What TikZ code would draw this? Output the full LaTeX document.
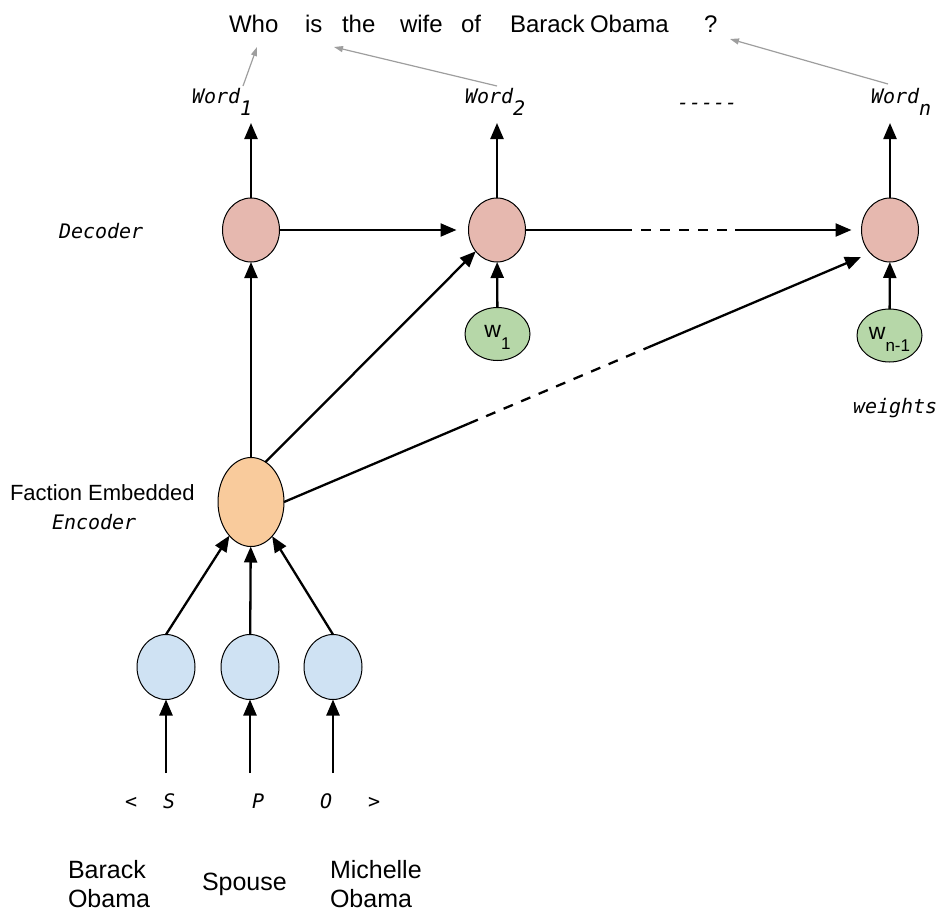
\documentclass[tikz,border=0pt]{standalone}
\usepackage{fontspec}
\setmainfont{Liberation Sans}
\newfontfamily\codefont{DejaVu Sans Mono}
\usetikzlibrary{arrows.meta,shapes.geometric,calc}

\definecolor{decfill}{HTML}{E6B8AF}
\definecolor{wfill}{HTML}{B6D7A8}
\definecolor{encfill}{HTML}{F9CB9C}
\definecolor{infill}{HTML}{CFE2F3}
\definecolor{hintgray}{HTML}{9E9E9E}

\begin{document}
\begin{tikzpicture}[x=1pt,y=-1pt,
  every node/.style={inner sep=0pt, outer sep=0pt},
  cell/.style={ellipse, draw=black, line width=1pt},
  decnode/.style={cell, fill=decfill, minimum width=57pt, minimum height=64pt},
  wnode/.style={cell, fill=wfill, minimum width=65pt, minimum height=53pt,
    font=\fontsize{23}{23}\selectfont},
  encnode/.style={cell, fill=encfill, minimum width=66pt, minimum height=89pt},
  innode/.style={cell, fill=infill, minimum width=58pt, minimum height=65pt},
  flow/.style={line width=2.3pt, -{Triangle[length=16pt,width=13pt]}},
  plain/.style={line width=2.3pt},
  dashpart/.style={line width=2.3pt, dash pattern=on 10pt off 9pt},
  hint/.style={draw=hintgray, line width=1.2pt, -{Triangle[length=9pt,width=6pt]}},
  code/.style={font=\fontsize{20}{20}\selectfont\codefont\itshape, anchor=base west},
  title/.style={font=\fontsize{24}{24}\selectfont, anchor=base west},
  side/.style={font=\fontsize{22}{22}\selectfont, anchor=base west},
  entity/.style={font=\fontsize{25}{29}\selectfont, align=left, anchor=north west},
]
\useasboundingbox (0,0) rectangle (943,913);

% question words
\node[title] (q1) at (229,32) {Who};
\node[title] (q2) at (305,32) {is};
\node[title] (q3) at (342,32) {the};
\node[title] (q4) at (400,32) {wife};
\node[title] (q5) at (461,32) {of};
\node[title] (q6) at (510,32) {Barack};
\node[title] (q7) at (590,32) {Obama};
\node[title] (q8) at (704,32) {?};

% generated words
\node[code] (o1) at (192,103) {Word\raisebox{-12pt}{1}};
\node[code] (o2) at (465,103) {Word\raisebox{-12pt}{2}};
\node[code] (odots) at (677,109) {-{}-{}-{}-{}-};
\node[code] (on) at (871,103) {Word\raisebox{-12pt}{n}};

% links from words to the question
\coordinate (h1a) at (243,86);  \coordinate (h1b) at (257,47);
\coordinate (h2a) at (497,86);  \coordinate (h2b) at (334,47);
\coordinate (h3a) at (888,84);  \coordinate (h3b) at (730,39);
\draw[hint] (h1a) -- (h1b);
\draw[hint] (h2a) -- (h2b);
\draw[hint] (h3a) -- (h3b);

% decoder cells
\node[decnode] (d1) at (251,230) {};
\node[decnode] (d2) at (497,230) {};
\node[decnode] (d3) at (890,230) {};
\node[code] (declab) at (59,238) {Decoder};

% weights
\node[wnode] (w1) at (497.5,334) {\raisebox{0pt}[12.5pt][5pt]{w\raisebox{-12pt}{\fontsize{17}{17}\selectfont 1}}};
\node[wnode] (wn) at (889.5,335.5) {\raisebox{0pt}[12.5pt][5pt]{w\raisebox{-12pt}{\fontsize{17}{17}\selectfont n-1}}};
\node[code] (wlab) at (853,413) {weights};

% encoder
\node[encnode] (enc) at (251,502) {};
\node[side] (enclab1) at (10,500) {Faction Embedded};
\node[code] (enclab2) at (52,529) {Encoder};

% triple inputs
\node[innode] (in1) at (166,667) {};
\node[innode] (in2) at (250,667) {};
\node[innode] (in3) at (333,667) {};

\node[code] (t0) at (125,808) {<};
\node[code] (t1) at (163,808) {S};
\node[code] (t2) at (252,808) {P};
\node[code] (t3) at (320,808) {O};
\node[code] (t4) at (368,808) {>};

\node[entity] (e1) at (68,860) {Barack\\Obama};
\node[side, font=\fontsize{25}{25}\selectfont] (e2) at (202,890) {Spouse};
\node[entity] (e3) at (330,860) {Michelle\\Obama};

% decoder outputs
\coordinate (u1) at (251,123);
\coordinate (u2) at (497,123);
\coordinate (un) at (890,123);
\draw[flow] (d1) -- (u1);
\draw[flow] (d2) -- (u2);
\draw[flow] (d3) -- (un);

% recurrent links
\draw[flow, shorten >=12pt] (d1) -- (d2);
\coordinate (ra) at (622,230);
\coordinate (rb) at (735,230);
\draw[plain] (d2) -- (ra);
\draw[dashpart] (ra) -- (rb);
\draw[flow, shorten >=10pt] (rb) -- (d3);

% weights into decoder
\draw[flow] (w1) -- (d2);
\draw[flow] (wn) -- (d3);

% encoder to decoder
\draw[flow] (enc) -- (d1);
\draw[flow] (enc.70) -- (d2);
\coordinate (ez) at (861,257);
\coordinate (ea) at ($(enc.east)!0.32!(ez)$);
\coordinate (eb) at ($(enc.east)!0.63!(ez)$);
\draw[plain] (enc.east) -- (ea);
\draw[dashpart] (ea) -- (eb);
\draw[flow] (eb) -- (ez);

% inputs to encoder
\draw[flow] (in1.north) -- (enc);
\draw[flow] (in2) -- (enc);
\draw[flow] (in3.north) -- (enc);

% tokens into inputs
\coordinate (s1) at (166,773);
\coordinate (s2) at (250,773);
\coordinate (s3) at (333,773);
\draw[flow] (s1) -- (in1);
\draw[flow] (s2) -- (in2);
\draw[flow] (s3) -- (in3);
\end{tikzpicture}
\end{document}
